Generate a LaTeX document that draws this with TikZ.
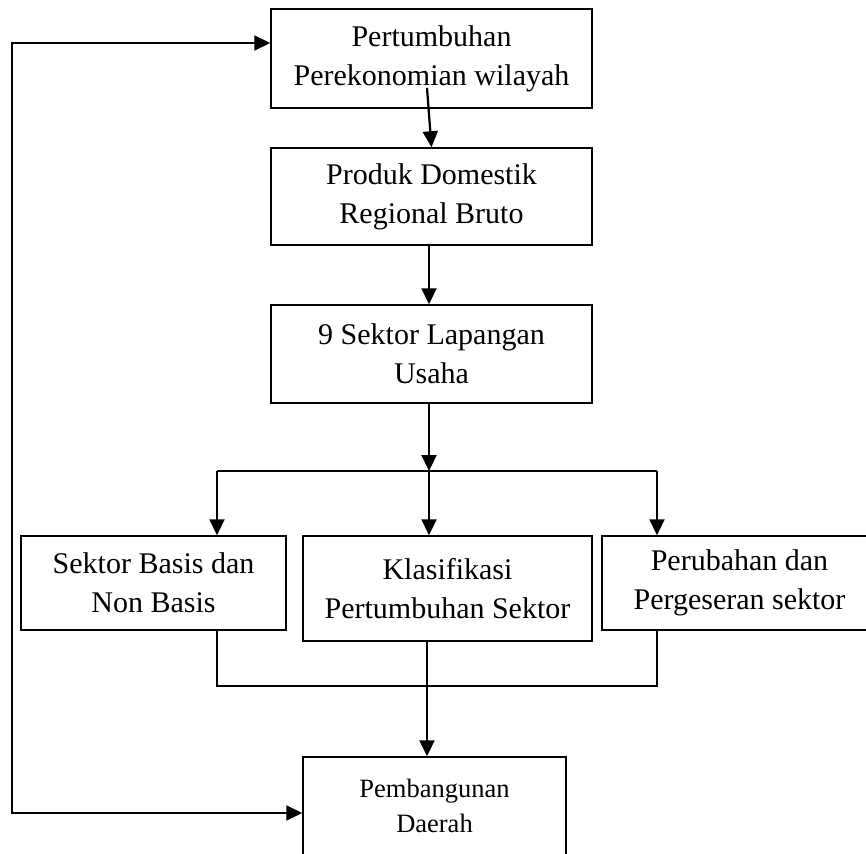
\documentclass[tikz,border=0pt]{standalone}
\usepackage{fontspec}
\setmainfont{Liberation Serif}
\usetikzlibrary{arrows.meta, calc, positioning}

\begin{document}
\begin{tikzpicture}[x=0.4pt, y=-0.4pt,
    kotak/.style={draw, line width=0.6pt, align=center, inner sep=0pt,
        font=\fontsize{12}{15.5}\selectfont},
    panah/.style={line width=0.9pt, -{Triangle[length=6.4pt,width=6pt]}},
    garis/.style={line width=0.5pt}]
    \useasboundingbox (0,0) rectangle (866,853);
    \clip (0,0) rectangle (866,853);

    % kotak utama
    \node[kotak, minimum width=128.4pt, minimum height=39.6pt] (tumbuh) at (431.5,58.5) {Pertumbuhan\\Perekonomian wilayah};
    \node[kotak, minimum width=128.4pt, minimum height=38.8pt] (pdrb) at (431.5,196.5) {Produk Domestik\\Regional Bruto};
    \node[kotak, minimum width=128.4pt, minimum height=39.2pt] (sektor) at (431.5,354) {9 Sektor Lapangan\\Usaha};
    \node[kotak, minimum width=106pt, minimum height=37.6pt] (basis) at (153.5,583) {Sektor Basis dan\\Non Basis};
    \node[kotak, minimum width=115.6pt, minimum height=42pt] (klas) at (447.5,588.5) {Klasifikasi\\Pertumbuhan Sektor};
    \node[kotak, minimum width=110pt, minimum height=37.6pt] (geser) at (739.5,583) {Perubahan dan\\Pergeseran sektor};
    \node[kotak, minimum width=105.2pt, minimum height=57.2pt] (bangun) at (434.5,828.5) {};
    \node[align=center, inner sep=0pt, font=\fontsize{10.6}{14}\selectfont] (bangunteks) at (434.5,806) {Pembangunan\\Daerah};

    \coordinate (awal) at (427,88);
    \coordinate (tengah) at (429,471);
    \coordinate (kiri) at (217,471);
    \coordinate (kanan) at (657,471);
    \coordinate (bawah) at (217,686);
    \coordinate (lt) at (12,43);
    \coordinate (lb) at (12,813);

    % alur ke bawah
    \draw[panah] (awal) -- (pdrb.north);
    \draw[panah] (pdrb.south -| tengah) -- (sektor.north -| tengah);
    \draw[panah] (sektor.south -| tengah) -- (tengah);
    \draw[line width=0.9pt] (kiri) -- (kanan);
    \draw[panah] (kiri) -- (kiri |- basis.north);
    \draw[panah] (tengah) -- (tengah |- klas.north);
    \draw[panah] (kanan) -- (kanan |- geser.north);

    % gabungan
    \draw[garis] (kiri |- basis.south) -- (bawah) -- (bawah -| kanan) -- (kanan |- geser.south);
    \draw[panah] (klas.south -| 427,0) -- (bangun.north -| 427,0);

    % umpan balik
    \draw[line width=0.9pt, {Triangle[length=6.4pt,width=6pt]}-{Triangle[length=6.4pt,width=6pt]}]
        (lt -| tumbuh.west) -- (lt) -- (lb) -- (lb -| bangun.west);
\end{tikzpicture}
\end{document}
